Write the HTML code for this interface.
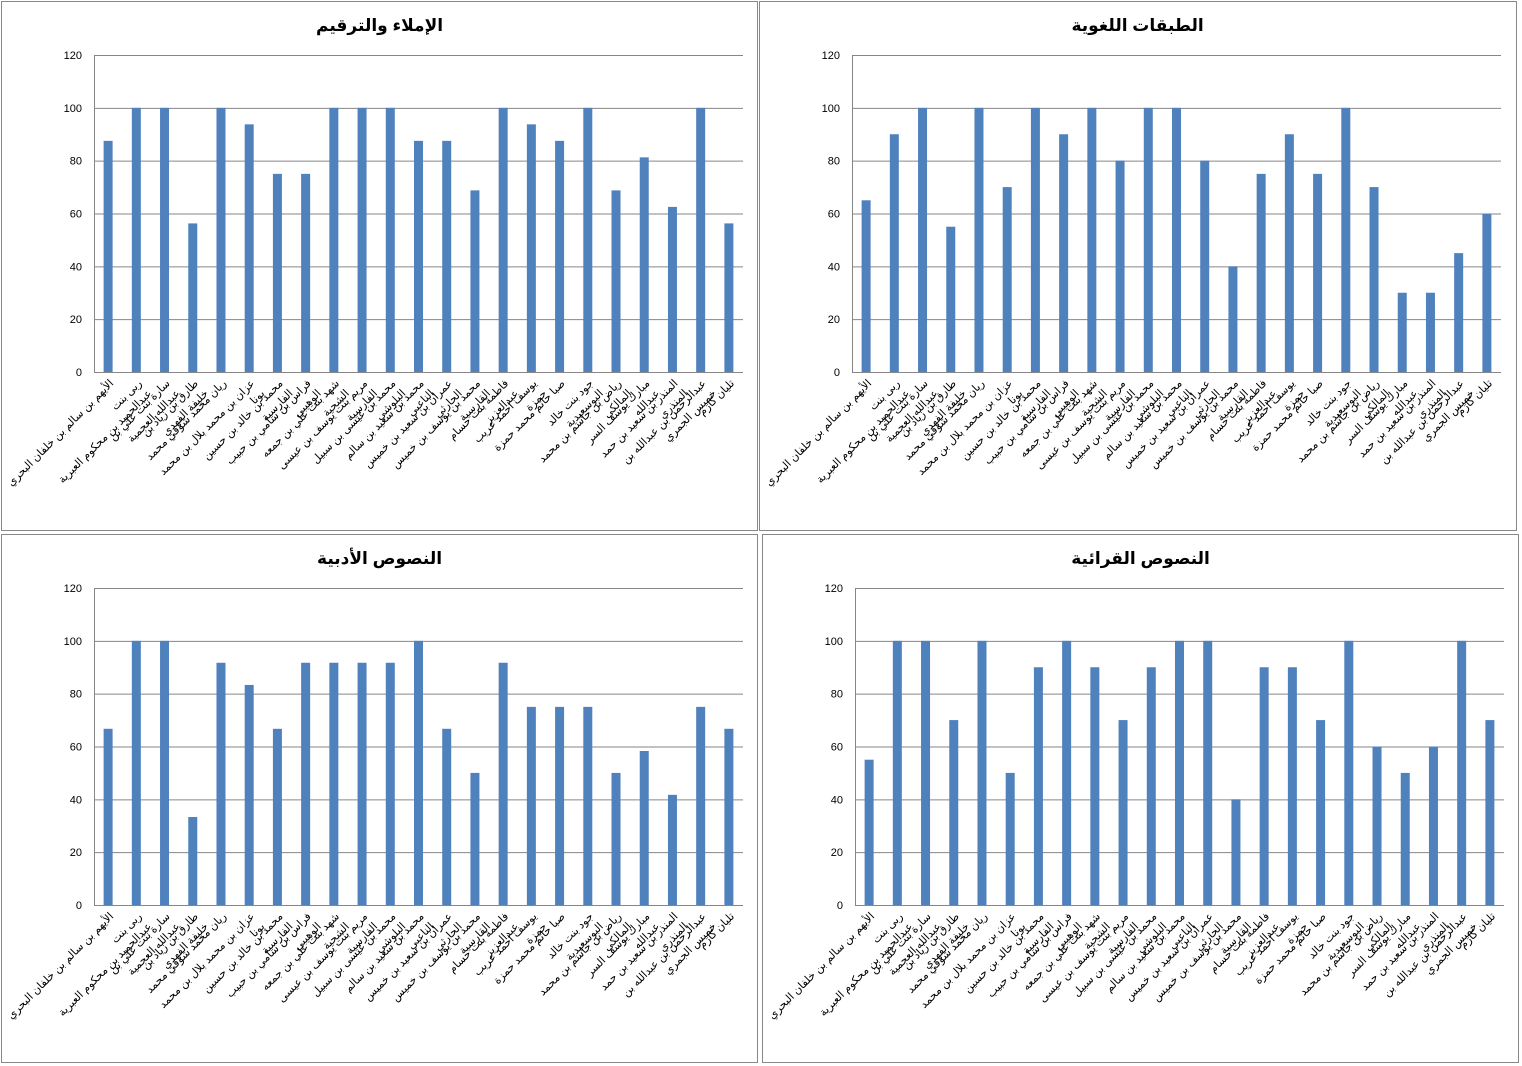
<!DOCTYPE html>
<html><head><meta charset="utf-8"><style>
html,body{margin:0;padding:0;background:#fff;}
svg{display:block;}
text{font-family:"Liberation Sans","Noto Sans CJK SC","DejaVu Sans",sans-serif;}
</style></head><body>
<svg id="s" width="1522" height="1066" xmlns="http://www.w3.org/2000/svg"></svg>
<script>
const labels=[
["الأيهم بن سالم بن خلفان البحري",""],
["ربى بنت","عبدالحميد بن محكوم العبرية"],
["سارة بنت علي بن","عبدالله العجمية"],
["طارق بن زياد بن","خليفة الفهدي"],
["ريان محمد شوقي محمد",""],
["عزان بن محمد بلال بن محمد","بونا"],
["محمد بن خالد بن حسين","الفارسية"],
["فراس بن سامي بن حبيب","الوهيبي"],
["شهد بنت علي بن جمعه","الشحية"],
["مريم بنت يوسف بن عيسى","الفارسية"],
["محمد بن عيسى بن سبيل","البلوشي"],
["محمد بن سعيد بن سالم","الناعبي"],
["عمران بن سعيد بن خميس","الحارثي"],
["محمد بن يوسف بن خميس","القارسية"],
["فاطمة بنت حسام","عبدالعزيز"],
["يوسف احمد عريب","حمزة"],
["صبا حاتم محمد حمزة",""],
["جود بنت خالد","البوسعيدية"],
["رياض بن جاسم بن محمد","المالكي"],
["مبارك يوسف السر","عبدالله"],
["المنذر بن سعيد بن حمد","المنذري"],
["عبدالرحمن بن عبدالله بن","خميس الجمري"],
["تليان كارم",""]];
const charts=[
{bx:1,by:1,bw:756,bh:529,px:94,py:55,title:"الإملاء والترقيم",d:[87.5,100,100,56.25,100,93.75,75,75,100,100,100,87.5,87.5,68.75,100,93.75,87.5,100,68.75,81.25,62.5,100,56.25]},
{bx:759,by:1,bw:757,bh:529,px:852,py:55,title:"الطبقات اللغوية",d:[65,90,100,55,100,70,100,90,100,80,100,100,80,40,75,90,75,100,70,30,30,45,60]},
{bx:1,by:534,bw:756,bh:528,px:94,py:588,title:"النصوص الأدبية",d:[66.7,100,100,33.3,91.7,83.3,66.7,91.7,91.7,91.7,91.7,100,66.7,50,91.7,75,75,75,50,58.3,41.7,75,66.7]},
{bx:762,by:534,bw:756,bh:528,px:855,py:588,title:"النصوص القرائية",d:[55,100,100,70,100,50,90,100,90,70,90,100,100,40,90,90,70,100,60,50,60,100,70]}];
let h='';
const W=649,H=317,cw=W/23;
for(const c of charts){
 h+=`<rect x="${c.bx+0.5}" y="${c.by+0.5}" width="${c.bw}" height="${c.bh}" fill="#fff" stroke="#888"/>`;
 h+=`<text x="${c.px+W*0.44}" y="${c.by+30}" text-anchor="middle" font-size="17" font-weight="bold">${c.title}</text>`;
 for(let i=0;i<=6;i++){const y=c.py+H-i*H/6;
  h+=`<line x1="${c.px}" x2="${c.px+W}" y1="${y+0.5}" y2="${y+0.5}" stroke="#868686"/>`;
  h+=`<text x="${c.px-12}" y="${y+4}" text-anchor="end" font-size="11">${i*20}</text>`;}
 h+=`<line x1="${c.px+0.5}" x2="${c.px+0.5}" y1="${c.py}" y2="${c.py+H}" stroke="#868686"/>`;
 c.d.forEach((v,i)=>{const x=c.px+cw*(i+0.5);const bh=v/120*H;
  h+=`<rect x="${x-4.5}" y="${c.py+H-bh}" width="9" height="${bh}" fill="#4f81bd"/>`;
 });
 c.d.forEach((v,i)=>{const x=c.px+cw*(i+0.5);
  const lb=labels[i];const tx=x+6,ty=c.py+H+12;
  h+=`<text transform="translate(${tx},${ty}) rotate(-45)" text-anchor="end" font-size="11">${lb[0]}</text>`;
  if(lb[1]) h+=`<text transform="translate(${tx+10},${ty+10}) rotate(-45)" text-anchor="end" font-size="11">${lb[1]}</text>`;
 });
}
document.getElementById('s').innerHTML=h;
</script>
</body></html>
